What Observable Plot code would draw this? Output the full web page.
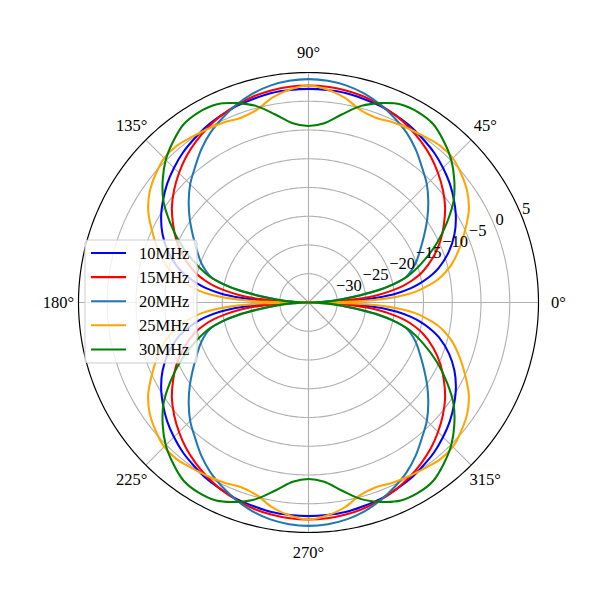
<!DOCTYPE html>
<html>
<head>
<meta charset="utf-8">
<script src="https://cdn.jsdelivr.net/npm/d3@7"></script>
<script src="https://cdn.jsdelivr.net/npm/@observablehq/plot@0.6"></script>
<style>
  html, body { margin: 0; padding: 0; background: #fff; }
  #chart svg { display: block; }
</style>
</head>
<body>
<div id="chart"></div>
<script>
// Angles (degrees from the dipole axis) at which the patterns were read (first quadrant; the pattern is symmetric)
const angles = [0, 1, 2, 3, 4, 5, 6, 8, 10, 12, 15, 20, 25, 30, 35, 40, 45, 50, 55, 60, 65, 70, 75, 80, 85, 90];

// Gain (dB) at those angles
const gain10MHz = [-35, -35, -29.1, -25.6, -23.1, -21.1, -19.5, -17.0, -15.1, -13.5, -11.5, -9.0, -7.0, -5.4, -4.1, -2.9, -1.9, -1.0, -0.3, 0.4, 0.9, 1.4, 1.7, 2.0, 2.1, 2.15];
const gain15MHz = [-35, -35, -32.6, -29.1, -26.6, -24.6, -23.0, -20.5, -18.3, -16.6, -14.5, -11.9, -9.7, -7.8, -6.0, -4.5, -3.15, -1.9, -0.85, 0.1, 0.9, 1.55, 2.1, 2.45, 2.67, 2.74];
const gain20MHz = [-35, -35, -33.2, -32.2, -31.2, -30.2, -28.8, -26.0, -22.8, -20.2, -17.3, -15.2, -13.6, -11.8, -9.8, -7.8, -5.9, -4.3, -2.5, -0.9, 0.4, 1.6, 2.6, 3.3, 3.7, 3.85];
const gain25MHz = [-35, -28, -24, -21.3, -19.2, -17.4, -16.0, -14.0, -12.2, -10.9, -9.2, -7.0, -4.9, -2.8, -1.3, -0.3, 0.5, 0.6, 0.2, -0.1, -0.4, -0.8, -0.3, 1.2, 2.2, 2.75];
const gain30MHz = [-35, -34.2, -33, -31.8, -30.5, -29.5, -28.5, -25.8, -22.5, -19.9, -17.0, -13.6, -10.3, -7.2, -4.2, -1.9, 0.1, 1.6, 2.85, 3.2, 3.0, 1.9, 0.4, -1.8, -3.7, -4.3];

const seriesNames = ["10MHz", "15MHz", "20MHz", "25MHz", "30MHz"];
const seriesColors = ["blue", "red", "#1f77b4", "orange", "green"];
const seriesGains = [gain10MHz, gain15MHz, gain20MHz, gain25MHz, gain30MHz];

// Axis ticks
const radialTicks = [-30, -25, -20, -15, -10, -5, 0, 5];
const angleTicks = [0, 45, 90, 135, 180, 225, 270, 315];
const rMin = -35, rMax = 5;
const radialLabelAngle = 22.5;

const rad = d => d * Math.PI / 180;
const rho = v => Math.max(0, (v - rMin) / (rMax - rMin));
const fmt = v => v < 0 ? "\u2212" + Math.abs(v) : String(v);

function fullPattern(vals) {
  const q = angles.map((a, i) => ({a, v: vals[i]}));
  const seq = [];
  q.forEach(d => seq.push([d.a, d.v]));
  q.slice(0, -1).reverse().forEach(d => seq.push([180 - d.a, d.v]));
  q.slice(1).forEach(d => seq.push([180 + d.a, d.v]));
  q.slice(0, -1).reverse().forEach(d => seq.push([360 - d.a, d.v]));
  const pts = [];
  for (const [t, v] of seq) {
    const r = rho(v);
    const p = {x: r * Math.cos(rad(t)), y: r * Math.sin(rad(t))};
    const last = pts[pts.length - 1];
    if (last && Math.abs(last.x - p.x) < 1e-9 && Math.abs(last.y - p.y) < 1e-9) continue;
    pts.push(p);
  }
  return pts;
}

function ring(v) {
  const r = rho(v);
  return d3.range(0, 361, 1).map(t => ({x: r * Math.cos(rad(t)), y: r * Math.sin(rad(t)), v}));
}

const gridRings = radialTicks.filter(v => v < rMax).flatMap(ring);
const outerRing = ring(rMax);

const lineMarks = seriesNames.map((name, i) =>
  Plot.line(fullPattern(seriesGains[i]), {x: "x", y: "y", stroke: seriesColors[i], strokeWidth: 2.05, curve: "catmull-rom"})
);

const chart = Plot.plot({
  width: 600,
  height: 600,
  marginLeft: 78, marginRight: 62, marginTop: 72, marginBottom: 68,
  x: {domain: [-1, 1], axis: null},
  y: {domain: [-1, 1], axis: null},
  style: {fontFamily: "'Liberation Serif', 'Times New Roman', serif", background: "white", color: "black", overflow: "visible"},
  marks: [
    Plot.line(gridRings, {x: "x", y: "y", z: "v", stroke: "#b0b0b0", strokeWidth: 1.1}),
    Plot.link(angleTicks, {x1: () => 0, y1: () => 0, x2: a => Math.cos(rad(a)), y2: a => Math.sin(rad(a)), stroke: "#b0b0b0", strokeWidth: 1.1}),
    ...lineMarks,
    Plot.line(outerRing, {x: "x", y: "y", stroke: "black", strokeWidth: 1.2}),
    Plot.text(angleTicks, {
      x: a => 1.087 * Math.cos(rad(a)), y: a => 1.087 * Math.sin(rad(a)),
      text: a => a + "°", fontSize: 16.5, textAnchor: "middle", lineAnchor: "middle", fill: "black"
    }),
    Plot.text(radialTicks, {
      x: v => rho(v) * Math.cos(rad(radialLabelAngle)), y: v => rho(v) * Math.sin(rad(radialLabelAngle)),
      text: fmt, fontSize: 16.5, textAnchor: "start", lineAnchor: "bottom", dx: 1, fill: "black"
    })
  ]
});

document.getElementById("chart").appendChild(chart);

// Legend (matplotlib-style framed box)
const svg = d3.select(chart);
const lg = svg.append("g").attr("text-anchor", "start");
const lgX = 85, lgY = 240, lgW = 112, lgH = 123, rowY0 = 253, rowStep = 24.1;
lg.append("rect").attr("x", lgX).attr("y", lgY).attr("width", lgW).attr("height", lgH)
  .attr("rx", 3).attr("fill", "white").attr("fill-opacity", 0.8).attr("stroke", "#cccccc").attr("stroke-width", 1);
seriesNames.forEach((name, i) => {
  const y = rowY0 + i * rowStep;
  lg.append("line").attr("x1", 91).attr("x2", 126).attr("y1", y).attr("y2", y)
    .attr("stroke", seriesColors[i]).attr("stroke-width", 2.05);
  lg.append("text").attr("x", 139).attr("y", y + 5.5).attr("font-size", 16.5)
    .attr("text-anchor", "start")
    .attr("font-family", "'Liberation Serif', 'Times New Roman', serif").attr("fill", "black").text(name);
});
</script>
</body>
</html>
